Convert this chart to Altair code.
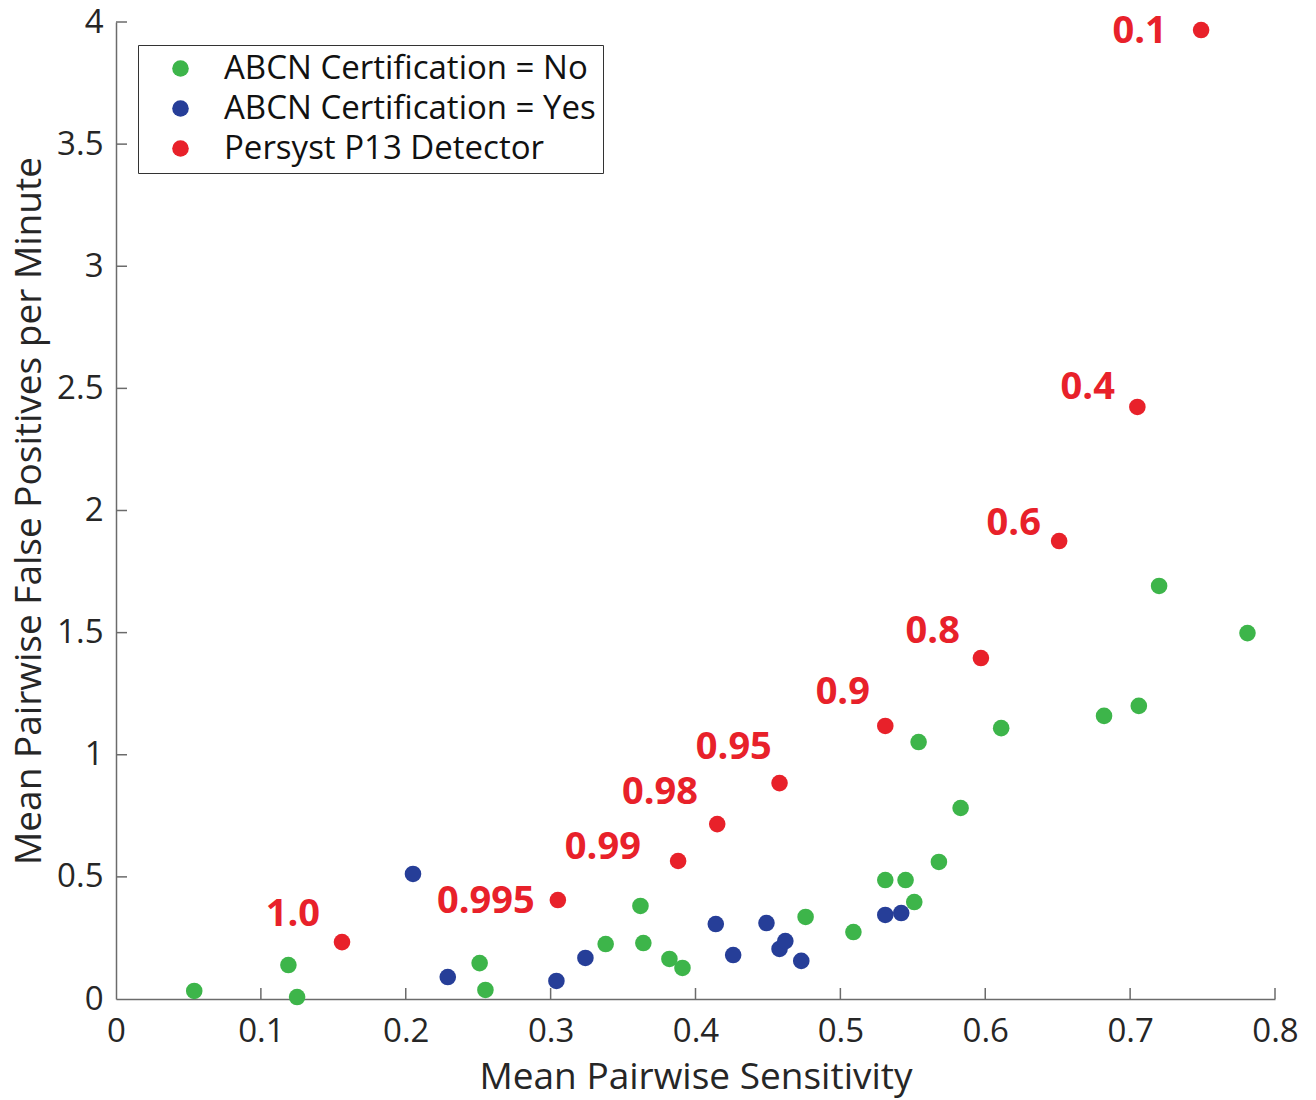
import altair as alt
import pandas as pd

# ---- data ----
no_x = [0.054, 0.119, 0.125, 0.251, 0.255, 0.338, 0.362, 0.364, 0.382, 0.391,
        0.476, 0.509, 0.531, 0.545, 0.551, 0.568, 0.554, 0.583, 0.611, 0.682,
        0.706, 0.720, 0.781]
no_y = [0.033, 0.139, 0.008, 0.147, 0.037, 0.225, 0.381, 0.229, 0.164, 0.127,
        0.336, 0.274, 0.487, 0.487, 0.397, 0.561, 1.052, 0.782, 1.109, 1.159,
        1.200, 1.691, 1.498]

yes_x = [0.205, 0.229, 0.304, 0.324, 0.414, 0.426, 0.449, 0.458, 0.462, 0.473,
         0.531, 0.542]
yes_y = [0.512, 0.090, 0.074, 0.168, 0.307, 0.180, 0.311, 0.205, 0.237, 0.156,
         0.344, 0.352]

p13_x = [0.156, 0.305, 0.388, 0.415, 0.458, 0.531, 0.597, 0.651, 0.705, 0.749]
p13_y = [0.233, 0.405, 0.565, 0.716, 0.884, 1.118, 1.396, 1.875, 2.424, 3.967]
p13_labels = ["1.0", "0.995", "0.99", "0.98", "0.95", "0.9", "0.8", "0.6", "0.4", "0.1"]
p13_label_x = [0.1408, 0.289, 0.3623, 0.4017, 0.4527, 0.5204, 0.5825, 0.6384, 0.6895, 0.7253]
p13_label_y = [0.344, 0.397, 0.618, 0.843, 1.027, 1.253, 1.503, 1.945, 2.502, 3.959]

groups = ["ABCN Certification = No", "ABCN Certification = Yes", "Persyst P13 Detector"]
colors = ["#3DB54A", "#263E98", "#E8212A"]

x_ticks = [0.1, 0.2, 0.3, 0.4, 0.5, 0.6, 0.7, 0.8]
y_ticks = [0.5, 1.0, 1.5, 2.0, 2.5, 3.0, 3.5, 4.0]
x_tick_labels = [0, 0.1, 0.2, 0.3, 0.4, 0.5, 0.6, 0.7, 0.8]
y_tick_labels = [0, 0.5, 1, 1.5, 2, 2.5, 3, 3.5, 4]

# ---- tables ----
pts = pd.concat([
    pd.DataFrame({"x": no_x, "y": no_y, "group": groups[0]}),
    pd.DataFrame({"x": yes_x, "y": yes_y, "group": groups[1]}),
    pd.DataFrame({"x": p13_x, "y": p13_y, "group": groups[2]}),
], ignore_index=True)
pts["order"] = pts["group"].map({g: i for i, g in enumerate(groups)})

labels_df = pd.DataFrame({"x": p13_label_x, "y": p13_label_y, "label": p13_labels})
xt_df = pd.DataFrame({"x": x_ticks})
yt_df = pd.DataFrame({"y": y_ticks})

FONT = "Open Sans"
W, H = 1159, 977
AXC = "#6b6b6b"

xscale = alt.Scale(domain=[0, 0.8], nice=False, zero=False)
yscale = alt.Scale(domain=[0, 4], nice=False, zero=False)

axis_common = dict(
    grid=False, ticks=False, tickSize=0, domain=True,
    domainColor=AXC, domainWidth=1.5,
    labelFont=FONT, labelFontSize=33, labelColor="#262626",
    labelFlush=False, labelOverlap=False, labelBound=False,
    titleFont=FONT, titleFontSize=37, titleColor="#262626", titleFontWeight="normal",
    format="~g",
)
xaxis = alt.Axis(title="Mean Pairwise Sensitivity", values=x_tick_labels,
                 labelPadding=16, titlePadding=11, **axis_common)
yaxis = alt.Axis(title="Mean Pairwise False Positives per Minute", values=y_tick_labels,
                 labelPadding=13, titlePadding=8, **axis_common)


def X():
    return alt.X("x:Q", scale=xscale, axis=xaxis)


def Y():
    return alt.Y("y:Q", scale=yscale, axis=yaxis)


points = alt.Chart(pts).mark_circle(size=275, opacity=1).encode(
    x=X(),
    y=Y(),
    color=alt.Color("group:N",
                    scale=alt.Scale(domain=groups, range=colors),
                    legend=alt.Legend(
                        title=None, orient="none", legendX=22, legendY=23,
                        strokeColor="#333333", fillColor="white", padding=7,
                        symbolType="circle", symbolSize=275, symbolStrokeWidth=0,
                        symbolOffset=19, labelOffset=27, labelLimit=600,
                        labelFont=FONT, labelFontSize=33, labelColor="#111111",
                        rowPadding=6)),
    order=alt.Order("order:Q"),
)

text = alt.Chart(labels_df).mark_text(
    align="right", baseline="middle", font=FONT, fontSize=38,
    fontWeight="bold", color="#E8212A"
).encode(
    x=X(),
    y=Y(),
    text="label:N",
)

xticks = alt.Chart(xt_df).mark_rule(color=AXC, strokeWidth=1.5).encode(
    x=X(),
    y=alt.value(H),
    y2=alt.value(H - 11),
)

yticks = alt.Chart(yt_df).mark_rule(color=AXC, strokeWidth=1.5).encode(
    y=Y(),
    x=alt.value(0),
    x2=alt.value(11),
)

chart = alt.layer(xticks, yticks, points, text).properties(
    width=W, height=H,
    autosize=alt.AutoSizeParams(type="none"),
    padding={"left": 116, "top": 22, "right": 41, "bottom": 101},
    background="white",
).configure_view(stroke=None)

chart.save("out.html", embed_options={"renderer": "svg", "actions": False})
